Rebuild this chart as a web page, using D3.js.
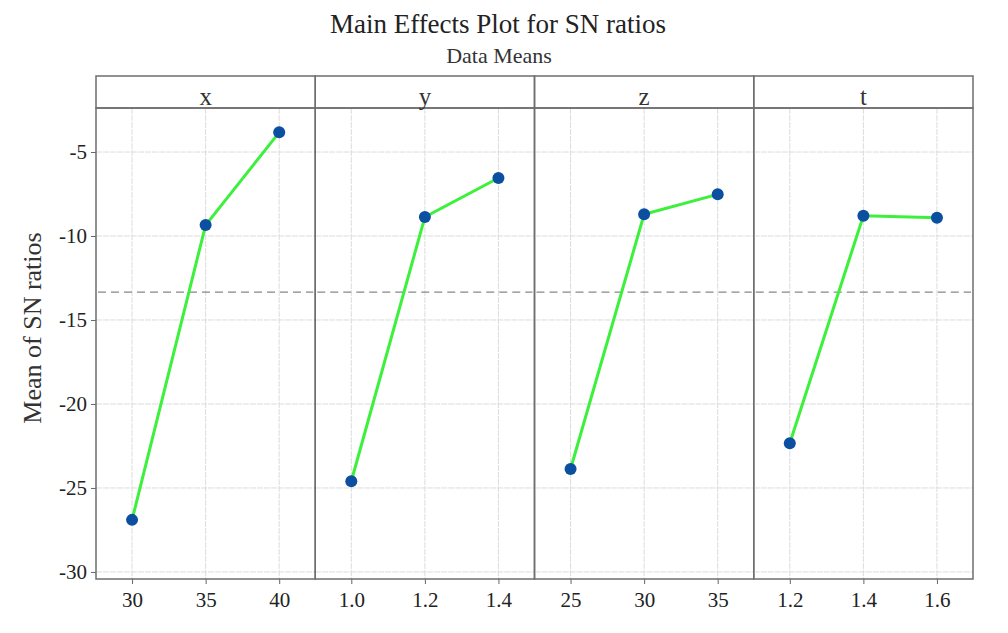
<!DOCTYPE html>
<html>
<head>
<meta charset="utf-8">
<script src="https://cdn.jsdelivr.net/npm/d3@7"></script>
<style>
  body { margin: 0; background: #fff; }
  svg { font-family: "Liberation Serif", "Times New Roman", serif; }
</style>
</head>
<body>
<div id="chart"></div>
<script>

// factors and their levels
var factors = ["x", "y", "z", "t"];
var levels = [
    [30, 35, 40],
    [1.0, 1.2, 1.4],
    [25, 30, 35],
    [1.2, 1.4, 1.6]
];
var levelLabels = [
    ["30", "35", "40"],
    ["1.0", "1.2", "1.4"],
    ["25", "30", "35"],
    ["1.2", "1.4", "1.6"]
];
// mean of SN ratios per level
var snMeans = [
    [-26.9, -9.35, -3.83],
    [-24.6, -8.87, -6.55],
    [-23.87, -8.71, -7.52],
    [-22.34, -8.79, -8.91]
];
var grandMean = -13.34;
var yTicks = [-30, -25, -20, -15, -10, -5];

var W = 1008, H = 633;
var left = 96, right = 973, stripTop = 76, plotTop = 108, plotBottom = 579;
var panelW = (right - left) / factors.length;

var svg = d3.select("#chart").append("svg")
    .attr("width", W)
    .attr("height", H);

var y = d3.scaleLinear()
    .domain([-30.42, -2.38])
    .range([plotBottom, plotTop]);

// titles
svg.append("text")
    .attr("x", 498).attr("y", 33)
    .attr("text-anchor", "middle")
    .style("font-size", "27px")
    .style("fill", "#222")
    .text("Main Effects Plot for SN ratios");

svg.append("text")
    .attr("x", 499).attr("y", 63)
    .attr("text-anchor", "middle")
    .style("font-size", "22px")
    .style("fill", "#333")
    .text("Data Means");

svg.append("text")
    .attr("transform", "translate(41," + 328 + ") rotate(-90)")
    .attr("text-anchor", "middle")
    .style("font-size", "26px")
    .style("fill", "#333")
    .text("Mean of SN ratios");

// y axis on the left
var yAxis = svg.append("g")
    .attr("transform", "translate(" + left + ",0)")
    .call(d3.axisLeft(y).tickValues(yTicks).tickSize(5).tickPadding(4).tickFormat(d3.format("d")));
yAxis.select(".domain").remove();
yAxis.selectAll("line").attr("stroke", "#666");
yAxis.selectAll("text")
    .style("font-family", "Liberation Serif, serif")
    .style("font-size", "21px")
    .style("fill", "#222")
    .text(function(d) { return String(d).replace("\u2212", "-"); });

var line = d3.line();

factors.forEach(function(f, i) {
    var lv = levels[i];
    var step = lv[1] - lv[0];
    var x0 = left + i * panelW;
    var x = d3.scaleLinear()
        .domain([lv[0] - 0.49 * step, lv[lv.length - 1] + 0.49 * step])
        .range([x0, x0 + panelW]);

    var g = svg.append("g").attr("class", "panel");

    // grid
    g.selectAll(".hgrid").data(yTicks).enter().append("line")
        .attr("x1", x0).attr("x2", x0 + panelW)
        .attr("y1", function(d) { return y(d); })
        .attr("y2", function(d) { return y(d); })
        .attr("stroke", "#dcdcdc")
        .attr("stroke-dasharray", "6,1");
    g.selectAll(".vgrid").data(lv).enter().append("line")
        .attr("x1", function(d) { return x(d); })
        .attr("x2", function(d) { return x(d); })
        .attr("y1", plotTop).attr("y2", plotBottom)
        .attr("stroke", "#dcdcdc")
        .attr("stroke-dasharray", "6,1");

    // grand mean reference
    g.append("line")
        .attr("x1", x0 + 2).attr("x2", x0 + panelW - 2)
        .attr("y1", y(grandMean)).attr("y2", y(grandMean))
        .attr("stroke", "#888")
        .attr("stroke-width", 1.3)
        .attr("stroke-dasharray", "8,5");

    // bottom axis
    var xAxis = g.append("g")
        .attr("transform", "translate(0," + plotBottom + ")")
        .call(d3.axisBottom(x).tickValues(lv).tickSize(5).tickPadding(8)
            .tickFormat(function(d, k) { return levelLabels[i][k]; }));
    xAxis.select(".domain").remove();
    xAxis.selectAll("line").attr("stroke", "#666");
    xAxis.selectAll("text")
        .style("font-family", "Liberation Serif, serif")
        .style("font-size", "21px")
        .style("fill", "#222");

    // effect line and points
    var pts = lv.map(function(d, k) { return [x(d), y(snMeans[i][k])]; });
    g.append("path")
        .attr("d", line(pts))
        .attr("fill", "none")
        .attr("stroke", "#3cf03c")
        .attr("stroke-width", 3);
    g.selectAll(".pt").data(pts).enter().append("circle")
        .attr("cx", function(d) { return d[0]; })
        .attr("cy", function(d) { return d[1]; })
        .attr("r", 6)
        .attr("fill", "#0a4fa0");

    // strip with factor name
    g.append("rect")
        .attr("x", x0).attr("y", stripTop)
        .attr("width", panelW).attr("height", plotTop - stripTop)
        .attr("fill", "none")
        .attr("stroke", "#6e6e6e")
        .attr("stroke-width", 1.5);
    g.append("rect")
        .attr("x", x0).attr("y", plotTop)
        .attr("width", panelW).attr("height", plotBottom - plotTop)
        .attr("fill", "none")
        .attr("stroke", "#6e6e6e")
        .attr("stroke-width", 1.5);
    g.append("text")
        .attr("x", x0 + panelW / 2).attr("y", 105)
        .attr("text-anchor", "middle")
        .style("font-size", "25px")
        .style("fill", "#333")
        .text(f);
});

</script>
</body>
</html>
